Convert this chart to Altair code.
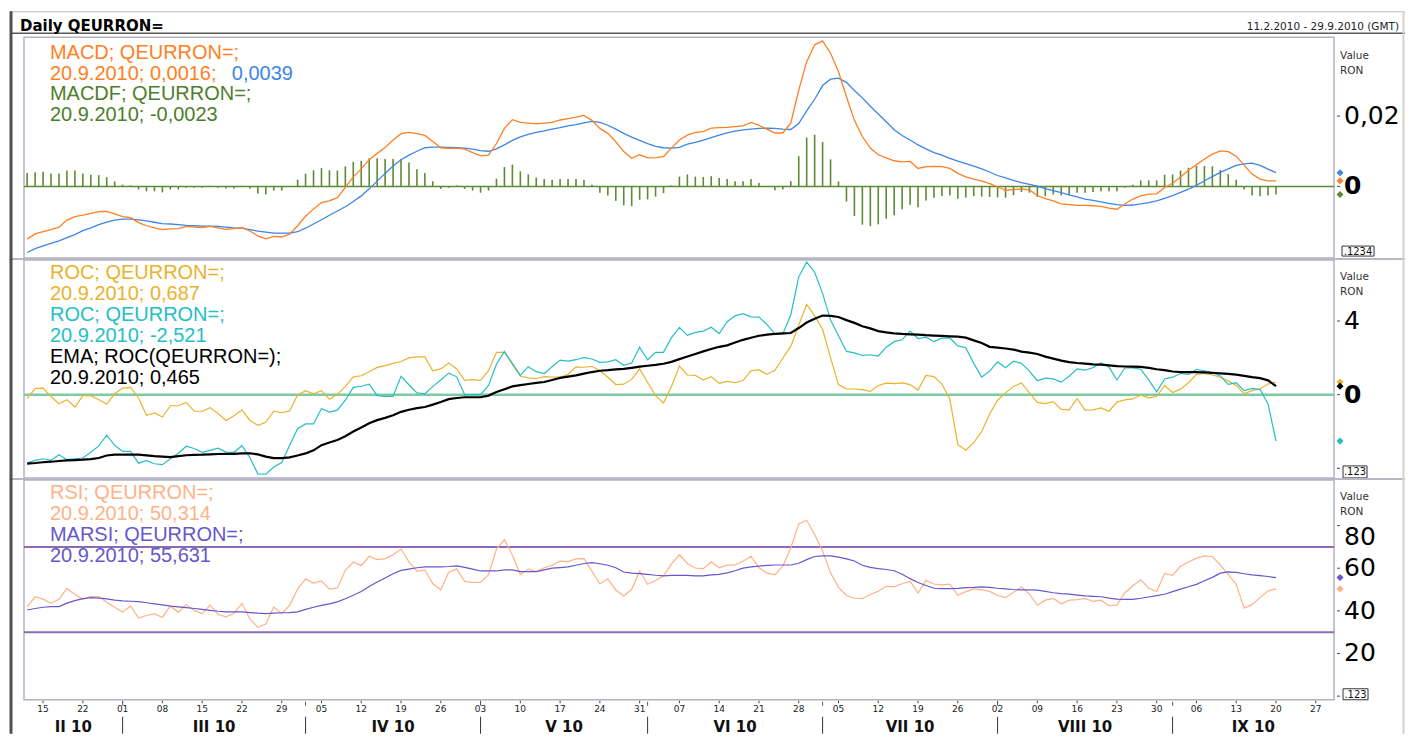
import altair as alt
import pandas as pd

FONT = "DejaVu Sans"
LFONT = "Liberation Sans"

# ---------------- data: one value per trading day, 11.2.2010 ... 20.9.2010 ----------------
# MACD panel values in thousandths
MACD_E3 = [
    -15.0, -13.5, -12.9, -12.3, -11.6, -9.6, -8.6, -8.2, -7.7, -7.2,
    -7.1, -7.8, -8.6, -8.9, -10.3, -11.2, -11.8, -12.3, -12.1, -12.0,
    -11.4, -11.6, -11.7, -11.4, -11.8, -12.2, -12.0, -11.7, -12.7, -14.1,
    -14.9, -14.2, -14.4, -13.6, -11.2, -8.5, -6.4, -4.6, -4.1, -3.2,
    -0.3, 2.7, 5.0, 7.6, 9.4, 11.1, 13.2, 15.0, 15.4, 15.0,
    14.5, 12.8, 11.0, 10.8, 10.9, 10.6, 9.6, 8.7, 8.9, 12.2,
    16.5, 19.0, 18.2, 18.0, 17.8, 18.0, 18.2, 18.9, 19.3, 19.7,
    20.2, 18.8, 16.5, 15.1, 12.7, 9.9, 8.0, 9.0, 8.1, 8.2,
    8.5, 10.9, 13.2, 14.6, 15.4, 15.6, 16.6, 16.7, 16.8, 17.0,
    17.2, 18.2, 17.4, 16.3, 15.2, 15.2, 18.0, 27.4, 35.5, 40.3,
    41.4, 37.9, 32.6, 25.5, 18.8, 14.2, 10.9, 9.0, 8.1, 7.3,
    7.0, 7.1, 5.1, 5.6, 5.7, 5.6, 5.1, 3.7, 2.7, 2.1,
    1.6, 0.8, -0.1, -1.1, -0.9, -0.7, -1.0, -2.6, -3.5, -4.1,
    -5.0, -5.2, -5.4, -5.4, -5.5, -5.7, -6.2, -6.5, -5.0, -3.6,
    -2.7, -2.2, -2.1, -0.3, 0.9, 2.7, 4.6, 6.2, 7.8, 9.2,
    10.1, 9.9, 8.6, 6.0, 3.5, 2.1, 1.6, 1.6,
]
SIGNAL_E3 = [
    -18.8, -17.7, -16.9, -16.2, -15.5, -14.6, -13.7, -12.6, -11.8, -10.9,
    -10.2, -9.6, -9.3, -9.3, -9.5, -9.8, -10.2, -10.6, -10.7, -10.9,
    -11.1, -11.2, -11.3, -11.3, -11.4, -11.6, -11.8, -11.9, -12.3, -12.7,
    -13.0, -13.3, -13.3, -13.3, -12.9, -11.9, -10.7, -9.5, -8.2, -7.0,
    -5.8, -4.3, -2.7, -0.7, 1.5, 3.7, 5.8, 7.6, 8.9, 10.0,
    11.0, 11.2, 11.2, 11.1, 11.0, 10.9, 10.6, 10.2, 10.0, 10.7,
    11.8, 13.1, 14.1, 14.8, 15.4, 15.8, 16.3, 16.7, 17.2, 17.6,
    18.1, 18.5, 18.2, 17.4, 16.3, 15.1, 14.0, 13.1, 12.2, 11.4,
    11.0, 10.9, 11.1, 12.0, 12.5, 13.2, 13.9, 14.6, 15.2, 15.7,
    16.1, 16.3, 16.5, 16.6, 16.5, 16.3, 16.2, 17.9, 21.5, 24.8,
    28.7, 30.5, 30.8, 29.6, 27.3, 25.2, 22.8, 20.6, 18.4, 16.1,
    14.5, 13.2, 11.8, 10.7, 9.6, 8.9, 8.0, 7.2, 6.5, 5.8,
    5.0, 4.1, 3.1, 2.4, 1.7, 1.1, 0.6, 0.1, -0.6, -1.2,
    -1.8, -2.4, -3.0, -3.6, -4.0, -4.4, -4.8, -5.2, -5.4, -5.3,
    -5.0, -4.6, -4.1, -3.4, -2.6, -1.7, -0.8, 0.3, 1.6, 2.8,
    4.0, 5.0, 6.0, 6.4, 6.6, 6.0, 4.9, 3.9,
]
MACDF_E3 = [
    3.8, 4.0, 4.2, 3.7, 3.7, 4.5, 4.5, 3.7, 3.3, 3.2,
    2.6, 1.4, 0.5, 0.3, -0.9, -1.4, -1.4, -1.7, -0.9, -0.9,
    -0.4, -0.4, -0.4, 0.2, -0.4, -0.6, -0.6, 0.2, -0.6, -2.0,
    -2.3, -1.2, -1.2, 0.0, 1.9, 3.6, 4.6, 5.2, 4.6, 4.5,
    5.7, 7.0, 7.3, 8.0, 8.0, 7.8, 7.8, 7.8, 6.8, 4.9,
    3.8, 1.5, -0.7, -0.4, 0.3, -0.7, -1.2, -1.8, -1.2, 2.2,
    5.5, 6.2, 4.3, 3.4, 2.5, 2.1, 1.8, 2.1, 2.1, 2.1,
    1.8, 0.5, -1.8, -2.6, -4.1, -5.4, -5.6, -3.8, -3.7, -2.9,
    -1.9, 0.3, 2.8, 3.4, 2.8, 2.7, 2.9, 2.4, 2.1, 1.5,
    1.5, 2.1, 1.0, 0.0, -1.1, -0.9, 1.5, 8.6, 13.9, 14.7,
    12.6, 7.7, 1.4, -4.3, -8.4, -10.9, -11.3, -10.8, -9.2, -8.2,
    -6.5, -5.2, -5.9, -4.0, -3.2, -2.7, -2.6, -3.5, -3.2, -2.8,
    -2.9, -3.0, -3.1, -3.2, -2.5, -1.6, -1.8, -3.0, -2.8, -2.3,
    -2.6, -2.6, -1.8, -1.8, -1.6, -1.4, -1.4, -1.4, -0.4, 0.5,
    1.7, 1.7, 1.7, 3.3, 3.4, 4.5, 5.3, 5.8, 5.8, 5.7,
    4.7, 3.5, 1.9, -0.9, -2.6, -2.8, -2.6, -2.3,
]
ROC_GOLD = [
    -0.20, 0.33, 0.36, -0.10, -0.49, -0.27, -0.67, -0.05, -0.05, -0.27,
    -0.51, 0.05, 0.36, 0.40, -0.18, -1.12, -0.99, -1.21, -0.60, -0.60,
    -0.42, -0.90, -0.90, -0.70, -1.02, -1.40, -1.14, -0.82, -1.40, -1.66,
    -1.50, -0.90, -0.98, -0.88, -0.02, 0.22, 0.05, 0.22, -0.25, 0.02,
    0.44, 0.97, 1.03, 1.25, 1.48, 1.58, 1.70, 1.80, 2.00, 2.05,
    2.05, 1.30, 1.40, 1.72, 1.40, 0.78, 0.82, 0.78, 1.30, 2.30,
    2.30, 1.65, 1.00, 0.91, 0.88, 0.98, 0.96, 0.95, 1.10, 1.51,
    1.49, 1.54, 1.30, 0.95, 0.55, 0.57, 0.83, 1.40, 0.66, -0.05,
    -0.45, 0.45, 1.55, 1.07, 1.05, 0.80, 0.98, 0.62, 0.72, 0.65,
    0.77, 1.30, 1.36, 1.10, 1.32, 1.98, 2.62, 3.78, 4.90, 4.28,
    3.55, 2.00, 0.55, 0.32, 0.31, 0.27, 0.18, 0.50, 0.63, 0.60,
    0.64, 0.55, 0.25, 1.05, 0.98, 0.58, -0.25, -2.70, -3.02, -2.60,
    -2.00, -1.05, -0.30, 0.10, 0.45, 0.64, 0.10, -0.42, -0.48, -0.38,
    -0.80, -0.82, -0.22, -0.84, -0.82, -0.72, -0.90, -0.40, -0.28, -0.23,
    -0.02, -0.17, -0.10, 0.50, 0.12, 0.30, 0.65, 1.10, 1.15, 1.07,
    0.95, 0.75, 0.50, 0.06, 0.22, 0.32, 0.58, 0.687,
]
ROC_TEAL = [
    -3.70, -3.57, -3.48, -3.57, -3.26, -3.53, -3.48, -3.44, -3.13, -2.78,
    -2.20, -2.75, -3.08, -3.08, -3.72, -3.58, -3.75, -3.80, -3.48, -3.18,
    -2.80, -2.92, -3.13, -3.02, -2.90, -3.12, -3.13, -2.77, -3.42, -4.30,
    -4.32, -3.93, -3.68, -2.75, -1.85, -1.59, -1.59, -0.75, -0.94, -0.84,
    -0.30, 0.40, 0.46, 0.57, -0.05, -0.09, -0.09, 1.00, 0.54, 0.10,
    0.05, 0.45, 0.80, 1.17, 0.97, 0.00, 0.00, 0.00, 0.50, 1.65,
    2.35, 1.70, 1.05, 1.52, 1.25, 1.15, 1.52, 1.88, 1.82, 1.90,
    2.03, 1.94, 1.76, 1.78, 1.90, 1.60, 1.72, 2.58, 1.90, 2.30,
    2.30, 3.10, 3.66, 3.22, 3.38, 3.45, 3.66, 3.32, 3.96, 4.28,
    4.40, 4.23, 4.21, 3.82, 3.30, 3.30, 4.33, 6.40, 7.20, 6.65,
    5.50, 4.05, 3.20, 2.35, 2.27, 2.13, 2.17, 2.10, 2.58, 2.88,
    2.98, 3.45, 3.05, 3.12, 2.88, 3.07, 3.08, 2.65, 2.55, 1.70,
    0.96, 1.28, 1.78, 1.47, 1.82, 1.70, 1.28, 0.76, 0.90, 0.86,
    0.68, 1.00, 1.40, 1.33, 1.47, 1.72, 1.50, 0.80, 1.45, 1.46,
    1.38, 0.80, 0.15, 0.85, 0.95, 1.15, 1.10, 1.38, 1.30, 1.20,
    1.02, 0.56, 0.65, 0.22, 0.34, 0.28, -0.50, -2.521,
]
EMA_ROC = [
    -3.74, -3.71, -3.67, -3.64, -3.60, -3.57, -3.55, -3.53, -3.50, -3.44,
    -3.30, -3.26, -3.26, -3.26, -3.26, -3.30, -3.34, -3.36, -3.39, -3.34,
    -3.29, -3.27, -3.26, -3.24, -3.22, -3.21, -3.21, -3.19, -3.18, -3.24,
    -3.36, -3.44, -3.44, -3.40, -3.30, -3.19, -3.02, -2.74, -2.60, -2.46,
    -2.26, -2.00, -1.78, -1.55, -1.38, -1.26, -1.12, -0.93, -0.82, -0.73,
    -0.67, -0.54, -0.40, -0.24, -0.18, -0.14, -0.14, -0.14, -0.05, 0.15,
    0.30, 0.45, 0.52, 0.58, 0.64, 0.69, 0.80, 0.91, 0.98, 1.05,
    1.14, 1.23, 1.30, 1.33, 1.37, 1.40, 1.46, 1.52, 1.57, 1.62,
    1.68, 1.78, 1.93, 2.07, 2.21, 2.35, 2.48, 2.60, 2.68, 2.83,
    2.98, 3.09, 3.20, 3.26, 3.30, 3.33, 3.35, 3.62, 3.92, 4.13,
    4.30, 4.28, 4.22, 4.05, 3.90, 3.72, 3.60, 3.45, 3.38, 3.33,
    3.30, 3.28, 3.26, 3.23, 3.21, 3.19, 3.17, 3.15, 3.10, 2.95,
    2.81, 2.60, 2.56, 2.51, 2.45, 2.34, 2.28, 2.21, 2.07, 1.96,
    1.85, 1.77, 1.72, 1.69, 1.65, 1.63, 1.59, 1.55, 1.53, 1.52,
    1.51, 1.46, 1.38, 1.33, 1.26, 1.23, 1.23, 1.23, 1.21, 1.19,
    1.16, 1.13, 1.09, 1.02, 0.95, 0.90, 0.78, 0.465,
]
RSI = [
    42.0, 46.6, 45.5, 43.6, 45.4, 50.5, 47.8, 45.4, 46.7, 46.7,
    44.0, 41.7, 39.4, 42.3, 36.6, 37.8, 38.7, 36.9, 42.3, 39.3,
    43.0, 40.2, 38.7, 42.7, 38.3, 37.2, 38.9, 43.4, 36.2, 32.3,
    33.8, 41.8, 38.7, 42.6, 50.2, 55.0, 53.0, 54.0, 50.2, 50.7,
    59.0, 62.9, 61.2, 65.6, 64.0, 64.5, 66.3, 69.0, 63.0, 58.5,
    59.2, 52.7, 49.8, 58.1, 59.7, 53.8, 53.3, 53.3, 57.0, 69.0,
    73.4, 66.2, 57.0, 59.6, 58.4, 60.2, 61.4, 63.3, 63.1, 64.4,
    64.5, 58.6, 52.6, 55.0, 49.8, 47.0, 50.1, 58.7, 52.5, 54.2,
    56.4, 62.0, 66.3, 62.2, 60.1, 59.8, 63.0, 60.2, 61.4, 61.5,
    63.3, 65.6, 60.2, 57.7, 56.9, 61.0, 69.5, 80.8, 82.5, 75.8,
    68.0, 57.8, 51.0, 47.2, 45.9, 45.8, 47.7, 49.2, 51.5, 51.4,
    52.7, 53.9, 48.3, 54.3, 52.6, 52.2, 52.5, 47.3, 49.0, 50.3,
    49.8, 49.1, 47.2, 46.2, 48.7, 51.2, 47.9, 42.6, 45.0, 45.8,
    43.3, 45.0, 45.3, 45.8, 44.4, 45.0, 42.4, 42.7, 48.5, 51.8,
    54.6, 50.7, 49.1, 57.5, 56.7, 60.9, 62.9, 64.7, 65.8, 65.5,
    61.5, 57.0, 52.4, 41.3, 42.9, 46.2, 49.4, 50.3,
]
MARSI = [
    40.4, 41.1, 41.7, 42.0, 42.0, 43.6, 44.8, 45.7, 46.2, 46.0,
    45.6, 45.0, 44.7, 44.5, 44.3, 43.8, 43.3, 42.8, 42.2, 41.9,
    41.5, 41.1, 40.7, 40.2, 39.8, 39.5, 39.5, 39.5, 39.2, 38.9,
    38.7, 38.9, 39.1, 39.2, 39.5, 40.7, 41.7, 42.6, 43.3, 44.2,
    45.7, 47.3, 49.1, 51.4, 53.5, 55.4, 57.4, 59.0, 59.6, 60.2,
    60.6, 60.6, 60.6, 60.8, 61.1, 60.4, 59.6, 58.7, 58.7, 58.7,
    59.2, 59.2, 58.4, 58.4, 58.4, 59.2, 60.0, 60.3, 60.6, 61.4,
    62.2, 62.6, 62.1, 61.4, 60.2, 58.2, 57.7, 57.5, 57.1, 56.7,
    56.4, 56.6, 56.7, 56.6, 56.4, 56.4, 56.9, 57.1, 57.8, 58.8,
    60.0, 60.6, 61.0, 61.3, 61.5, 61.5, 61.5, 62.3, 64.0, 65.5,
    65.8, 65.8, 65.2, 64.4, 63.4, 61.4, 60.4, 59.8, 59.4, 58.8,
    57.2, 55.1, 53.3, 51.9, 50.6, 50.4, 50.4, 50.5, 50.9, 51.0,
    51.2, 51.0, 50.6, 50.3, 50.0, 49.8, 49.8, 49.7, 49.1, 48.5,
    48.1, 47.8, 47.4, 47.0, 46.8, 46.6, 46.0, 45.5, 45.4, 45.4,
    45.9, 46.5, 47.1, 47.8, 49.0, 50.2, 51.3, 52.4, 54.1, 55.7,
    57.7, 58.3, 58.0, 57.4, 56.9, 56.5, 56.1, 55.6,
]
RSI_BANDS = [70, 30]

# y-axis ticks and labels of the three panels (right side)
TICKS1 = [0, 0.02]
LABELS1 = ["0", "0,02"]
TICKS2 = [-4, 0, 4]
LABELS2 = ["", "0", "4"]
TICKS3 = [0, 20, 40, 60, 80]
LABELS3 = ["", "20", "40", "60", "80"]

MONDAY_LABELS = ["15", "22", "01", "08", "15", "22", "29", "05", "12", "19", "26",
                 "03", "10", "17", "24", "31", "07", "14", "21", "28", "05", "12",
                 "19", "26", "02", "09", "16", "23", "30", "06", "13", "20", "27"]
MONTH_NAMES = ["II 10", "III 10", "IV 10", "V 10", "VI 10", "VII 10", "VIII 10", "IX 10"]
MONTH_STARTS = [12, 35, 57, 78, 100, 122, 144]  # trading-day index of first day of month

TITLE = "Daily QEURRON="
DATE_RANGE = "11.2.2010 - 29.9.2010 (GMT)"
LEG1 = ["MACD; QEURRON=;", "20.9.2010; 0,0016; ", "0,0039", "MACDF; QEURRON=;", "20.9.2010; -0,0023"]
LEG2 = ["ROC; QEURRON=;", "20.9.2010; 0,687", "ROC; QEURRON=;", "20.9.2010; -2,521",
        "EMA; ROC(QEURRON=);", "20.9.2010; 0,465"]
LEG3 = ["RSI; QEURRON=;", "20.9.2010; 50,314", "MARSI; QEURRON=;", "20.9.2010; 55,631"]

# ---------------- styling ----------------
W = 1311
H1, H2, H3 = 221, 218, 220
X_MIN, X_MAX = -0.4, 164.3
C_MACD = "#FF7F24"
C_SIG = "#3D85E6"
C_HIST = "#5B8C33"
C_HTXT = "#4E7E2B"
C_GOLD = "#E9B32B"
C_TEAL = "#26BEC6"
C_ZERO2 = "#7CCBA4"
C_RSI = "#FFB287"
C_MARSI = "#6657CC"
C_BAND = "#8D6AB5"
C_FRAME = "#B2B2C4"
C_LEFT = "#505050"
C_RIGHT = "#D6D0CA"

n = len(MACD_E3)
df1 = pd.DataFrame({"i": list(range(n)),
                    "macd": [v / 1000 for v in MACD_E3],
                    "sig": [v / 1000 for v in SIGNAL_E3],
                    "hist": [v / 1000 for v in MACDF_E3],
                    "z": [0.0] * n})
df2 = pd.DataFrame({"i": list(range(n)), "gold": ROC_GOLD, "teal": ROC_TEAL, "ema": EMA_ROC})
df3 = pd.DataFrame({"i": list(range(n)), "rsi": RSI, "marsi": MARSI})
ONE = pd.DataFrame({"k": [0]})

SX = alt.Scale(domain=[X_MIN, X_MAX], nice=False, zero=False)
S1 = alt.Scale(domain=[-0.0204, 0.04245], nice=False, zero=False)
S2 = alt.Scale(domain=[-4.52, 7.31], nice=False, zero=False)
S3 = alt.Scale(domain=[-1.7, 101.4], nice=False, zero=False)


def xq(field="i:Q"):
    return alt.X(field, scale=SX, axis=None)


def yq(field, scale):
    return alt.Y(field, scale=scale, axis=None)


def txt(s, x, y, color, size=18, weight="normal", align="left", font=FONT):
    return alt.Chart(pd.DataFrame({"t": [s]})).mark_text(
        align=align, baseline="middle", font=font, fontSize=size, fontWeight=weight, color=color
    ).encode(x=alt.value(x), y=alt.value(y), text="t:N")


def leg(s, x, y, color):
    return txt(s, x, y, color, size=20, font=LFONT)


def right_axis(ticks, labels, scale, bold_zero=True):
    d = pd.DataFrame({"v": ticks, "t": labels})
    tick = alt.Chart(d).mark_rule(color="#444", strokeWidth=1).encode(
        y=yq("v:Q", scale), x=alt.value(W + 3), x2=alt.value(W + 6))
    layers = [tick]
    normal = d[(d["t"] != "") & ((d["v"] != 0) | (not bold_zero))]
    top = normal[normal["v"] == 80]
    rest = normal[normal["v"] != 80]
    base = dict(align="left", baseline="middle", font=FONT, fontSize=25, color="#000")
    layers.append(alt.Chart(rest).mark_text(**base).encode(
        x=alt.value(W + 10), y=yq("v:Q", scale), text="t:N"))
    if len(top):
        layers.append(alt.Chart(top).mark_text(dy=11, **base).encode(
            x=alt.value(W + 10), y=yq("v:Q", scale), text="t:N"))
    if bold_zero:
        z = d[(d["v"] == 0) & (d["t"] != "")]
        layers.append(alt.Chart(z).mark_text(fontWeight="bold", **base).encode(
            x=alt.value(W + 10), y=yq("v:Q", scale), text="t:N"))
    return layers


def vrule(x, y1, y2, color, w):
    return alt.Chart(ONE).mark_rule(color=color, strokeWidth=w).encode(
        x=alt.value(x), y=alt.value(y1), y2=alt.value(y2))


def hrule(y, x1, x2, color, w):
    return alt.Chart(ONE).mark_rule(color=color, strokeWidth=w).encode(
        y=alt.value(y), x=alt.value(x1), x2=alt.value(x2))


def boxed(s, x1, x2, y1, y2):
    box = alt.Chart(ONE).mark_rect(fill="white", stroke="#333", strokeWidth=1).encode(
        x=alt.value(x1), x2=alt.value(x2), y=alt.value(y1), y2=alt.value(y2))
    return [box, txt(s, (x1 + x2) / 2, (y1 + y2) / 2 + 0.5, "#111", size=10, align="center")]


def diamonds(vals, colors, scale):
    d = pd.DataFrame({"v": vals, "c": colors})
    return alt.Chart(d).mark_point(shape="diamond", filled=True, size=50, opacity=1).encode(
        x=alt.value(1317), y=yq("v:Q", scale), color=alt.Color("c:N", scale=None))


def zero_line(color, w, scale):
    return alt.Chart(pd.DataFrame({"v": [0]})).mark_rule(color=color, strokeWidth=w).encode(
        y=yq("v:Q", scale))


def frame_deco(top, bottom):
    return [vrule(-13, top, bottom, C_LEFT, 3), vrule(1380.5, top, bottom, C_RIGHT, 2)]


LX = 26

# ---------------- panel 1: MACD ----------------
p1_layers = [
    alt.Chart(df1).mark_rule(strokeWidth=1.6, color=C_HIST).encode(
        x=xq(), y=yq("hist:Q", S1), y2="z:Q"),
    zero_line(C_HIST, 1.5, S1),
    alt.Chart(df1).mark_line(color=C_SIG, strokeWidth=1.3).encode(x=xq(), y=yq("sig:Q", S1)),
    alt.Chart(df1).mark_line(color=C_MACD, strokeWidth=1.3).encode(x=xq(), y=yq("macd:Q", S1)),
    diamonds([SIGNAL_E3[-1] / 1000, MACD_E3[-1] / 1000, MACDF_E3[-1] / 1000],
             [C_SIG, C_MACD, C_HIST], S1),
    *right_axis(TICKS1, LABELS1, S1),
    leg(LEG1[0], LX, 15.5, C_MACD), leg(LEG1[1], LX, 36.3, C_MACD),
    leg(LEG1[2], 208, 36.3, C_SIG), leg(LEG1[3], LX, 57, C_HTXT), leg(LEG1[4], LX, 77.8, C_HTXT),
    txt("Value", 1317, 18.3, "#333", size=10.5), txt("RON", 1317, 33.3, "#333", size=10.5),
    *boxed(".1234", 1319, 1351, 209, 219),
    hrule(-25.5, -14, 1382, "#BDBDBD", 1),
    hrule(-4, -14, 1382, "#5A5A5A", 1.5),
    hrule(H1 + 1, -14, 1382, "#B8B8C4", 2),
    txt(TITLE, -4, -11, "#000", size=15, weight="bold"),
    txt(DATE_RANGE, 1376, -10, "#222", size=10.5, align="right"),
    *frame_deco(-26, H1 + 2),
]
p1 = alt.layer(*p1_layers).properties(width=W, height=H1)

# ---------------- panel 2: ROC ----------------
p2_layers = [
    zero_line(C_ZERO2, 2.5, S2),
    alt.Chart(df2).mark_line(color=C_GOLD, strokeWidth=1.2).encode(x=xq(), y=yq("gold:Q", S2)),
    alt.Chart(df2).mark_line(color=C_TEAL, strokeWidth=1.2).encode(x=xq(), y=yq("teal:Q", S2)),
    alt.Chart(df2).mark_line(color="#000", strokeWidth=2.2).encode(x=xq(), y=yq("ema:Q", S2)),
    diamonds([ROC_GOLD[-1], EMA_ROC[-1], ROC_TEAL[-1]], [C_GOLD, "#000", C_TEAL], S2),
    *right_axis(TICKS2, LABELS2, S2),
    leg(LEG2[0], LX, 13, C_GOLD), leg(LEG2[1], LX, 34, C_GOLD),
    leg(LEG2[2], LX, 55, C_TEAL), leg(LEG2[3], LX, 76, C_TEAL),
    leg(LEG2[4], LX, 97, "#000"), leg(LEG2[5], LX, 118, "#000"),
    txt("Value", 1317, 17.3, "#333", size=10.5), txt("RON", 1317, 32.3, "#333", size=10.5),
    *boxed(".123", 1320, 1344, 206, 218),
    hrule(H2 + 1, -14, 1382, "#B8B8C4", 2),
    *frame_deco(-1, H2 + 2),
]
p2 = alt.layer(*p2_layers).properties(width=W, height=H2)

# ---------------- panel 3: RSI ----------------
bounds = [X_MIN] + MONTH_STARTS + [X_MAX]
df_month = pd.DataFrame({"name": MONTH_NAMES,
                         "c": [(bounds[k] + bounds[k + 1]) / 2 for k in range(len(MONTH_NAMES))]})
df_sep = pd.DataFrame({"s": MONTH_STARTS})
df_mon = pd.DataFrame({"m": [2 + 5 * k for k in range(len(MONDAY_LABELS))], "lab": MONDAY_LABELS})

p3_layers = [
    alt.Chart(pd.DataFrame({"v": RSI_BANDS})).mark_rule(color=C_BAND, strokeWidth=2).encode(
        y=yq("v:Q", S3)),
    alt.Chart(df3).mark_line(color=C_RSI, strokeWidth=1.2).encode(x=xq(), y=yq("rsi:Q", S3)),
    alt.Chart(df3).mark_line(color=C_MARSI, strokeWidth=1.2).encode(x=xq(), y=yq("marsi:Q", S3)),
    diamonds([MARSI[-1], RSI[-1]], [C_MARSI, C_RSI], S3),
    *right_axis(TICKS3, LABELS3, S3, bold_zero=False),
    leg(LEG3[0], LX, 13, C_RSI), leg(LEG3[1], LX, 34, C_RSI),
    leg(LEG3[2], LX, 55, C_MARSI), leg(LEG3[3], LX, 76, C_MARSI),
    txt("Value", 1317, 17.3, "#333", size=10.5), txt("RON", 1317, 32.3, "#333", size=10.5),
    *boxed(".123", 1320, 1345, 209, 220),
    # bottom time axis
    alt.Chart(df_mon).mark_rule(color="#444", strokeWidth=1).encode(
        x=xq("m:Q"), y=alt.value(H3 + 1), y2=alt.value(H3 + 3.5)),
    alt.Chart(df_mon).mark_text(font=FONT, fontSize=9, color="#222", baseline="middle").encode(
        x=xq("m:Q"), y=alt.value(H3 + 9), text="lab:N"),
    alt.Chart(df_sep).mark_rule(color="#555", strokeWidth=1).encode(
        x=xq("s:Q"), y=alt.value(H3 + 2), y2=alt.value(H3 + 6)),
    alt.Chart(df_sep).mark_rule(color="#333", strokeWidth=1).encode(
        x=xq("s:Q"), y=alt.value(H3 + 17), y2=alt.value(H3 + 34)),
    alt.Chart(df_month).mark_text(font=FONT, fontSize=15, fontWeight="bold", color="#111",
                                  baseline="middle").encode(
        x=xq("c:Q"), y=alt.value(H3 + 27), text="name:N"),
    *frame_deco(-1, H3 + 34),
]
p3 = alt.layer(*p3_layers).properties(width=W, height=H3)

chart = (
    alt.vconcat(p1, p2, p3, spacing=2, bounds="flush")
    .resolve_scale(x="independent", y="independent")
    .properties(padding={"left": 0, "top": 0, "right": 0, "bottom": 0}, background="white")
    .configure_view(stroke=C_FRAME, strokeWidth=1.5)
)

chart.save("out.html", embed_options={"renderer": "svg", "actions": False})
